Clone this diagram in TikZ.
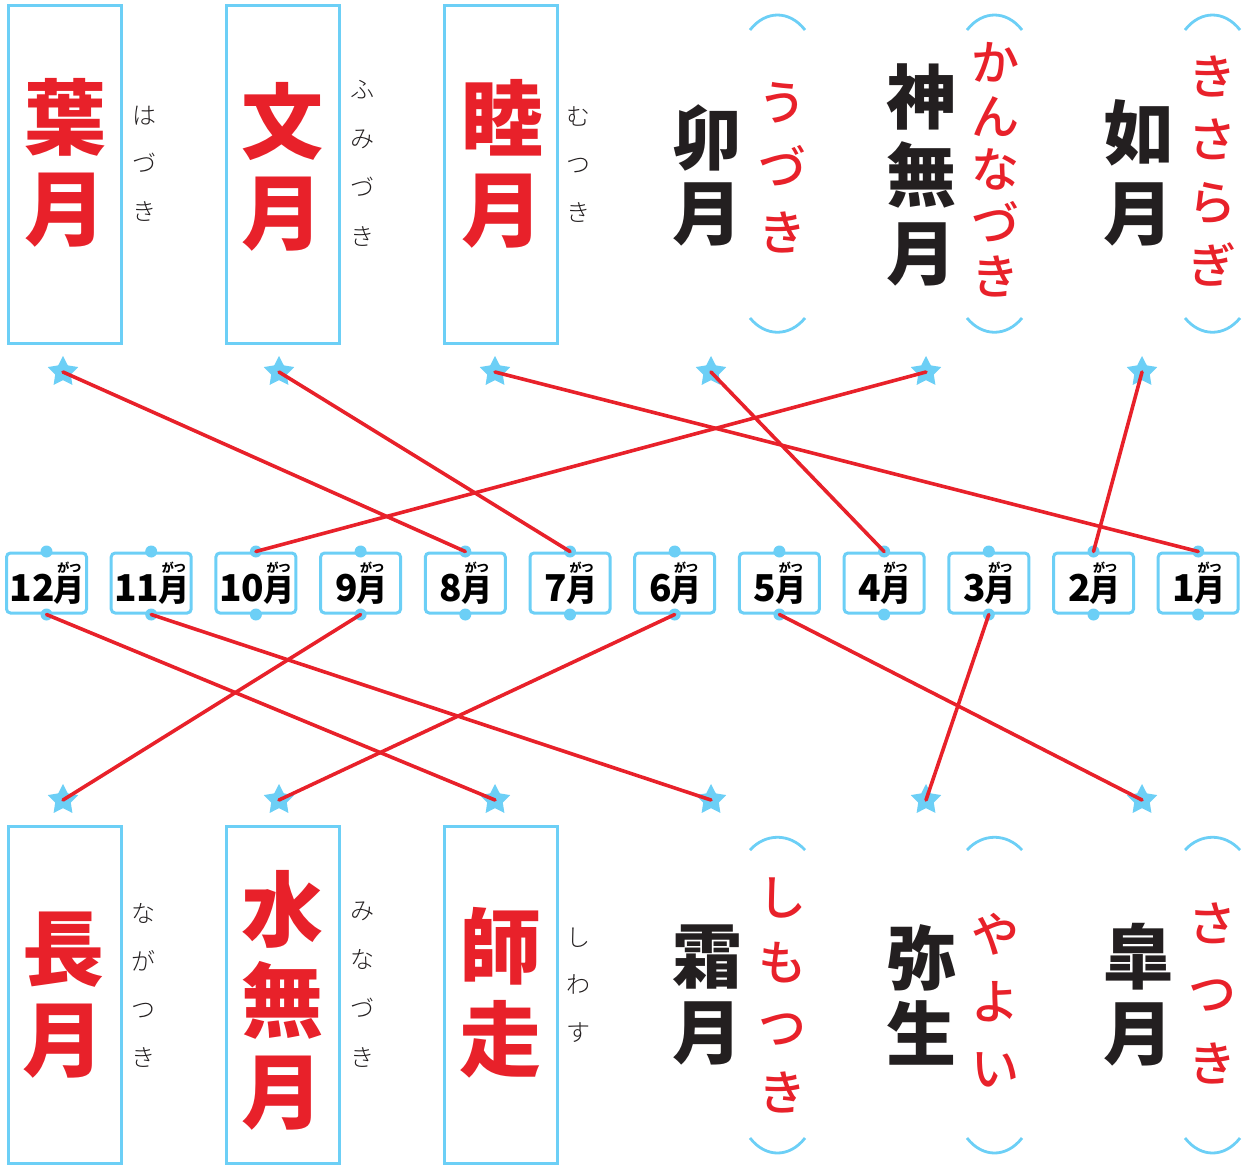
\documentclass[tikz,border=0pt]{standalone}
\usepackage{fontspec}
\usetikzlibrary{shapes.geometric}
\newfontfamily\jp{Noto Sans CJK JP}
\IfFontExistsTF{Noto Sans CJK JP Medium}{\newfontfamily\jpm{Noto Sans CJK JP Medium}}{\newfontfamily\jpm{Noto Sans CJK JP}}
\IfFontExistsTF{Noto Sans CJK JP Light}{\newfontfamily\jpl{Noto Sans CJK JP Light}}{\newfontfamily\jpl{Noto Sans CJK JP}}
\definecolor{lb}{HTML}{6CCFF6}
\definecolor{rd}{HTML}{E8212A}
\definecolor{ink}{HTML}{231F20}
\newcommand\mlab[1]{\jp\bfseries{\fontsize{37}{37}\selectfont #1}\kern0.5pt\vbox{\offinterlineskip\hbox to 28pt{\hss\fontsize{12}{12}\selectfont がつ\hss}\kern2.5pt\hbox to 28pt{\hss\fontsize{31}{31}\selectfont 月\hss}}}
\tikzset{
  kbox/.style={draw=lb, line width=3pt, minimum width=113pt, minimum height=338pt, inner sep=0pt},
  rkanji/.style={text=rd, font=\jp\bfseries\fontsize{82}{91}\selectfont, align=center, inner sep=0pt},
  bkanji/.style={text=ink, font=\jp\bfseries\fontsize{70}{#1}\selectfont, align=center, inner sep=0pt},
  bkanji/.default=76,
  furi/.style={text=ink, font=\jpl\fontsize{24}{#1}\selectfont, align=center, inner sep=0pt},
  furi/.default=48,
  rfuri/.style={text=rd, font=\jpm\fontsize{48}{#1}\selectfont, align=center, inner sep=0pt},
  mbox/.style={draw=lb, line width=3pt, rounded corners=4pt, minimum width=80pt, minimum height=60pt, inner sep=0pt},
  starmark/.style={star, star points=5, star point ratio=1.95, minimum size=32pt, inner sep=0pt, fill=lb, draw=none},
  link/.style={draw=rd, line width=3.6pt, line cap=round},
  paren/.style={draw=lb, line width=2.8pt},
}
\begin{document}
\begin{tikzpicture}[x=1pt,y=-1pt]
\useasboundingbox (0,0) rectangle (1249,1168);
% ---------- top row ----------
\node[kbox] (b1) at (64.5,174) {};
\node[kbox] (b2) at (282.5,174) {};
\node[kbox] (b3) at (500.5,174) {};
\node[rkanji] (k1) at (65,163) {葉\\月};
\node[furi] (f1) at (144,164) {は\\づ\\き};
\node[rkanji] (k2) at (282,167) {文\\月};
\node[furi=49] (f2) at (362,163) {ふ\\み\\づ\\き};
\node[rkanji] (k3) at (502,164) {睦\\月};
\node[furi] (f3) at (578,165) {む\\つ\\き};
\node[bkanji=75] (k4) at (707,175) {卯\\月};
\node[rfuri=65] (r4) at (782,168) {う\\づ\\き};
\node[bkanji=78] (k5) at (921,175) {神\\無\\月};
\node[rfuri=53.5] (r5) at (995,170) {か\\ん\\な\\づ\\き};
\node[bkanji=80] (k6) at (1138,173) {如\\月};
\node[rfuri=63] (r6) at (1212,171) {き\\さ\\ら\\ぎ};
% parentheses top
\foreach \c in {777.5,994.5,1212.5}{
  \draw[paren] (\c-27.5,30) .. controls (\c-12,10) and (\c+12,10) .. (\c+27.5,30);
  \draw[paren] (\c-27.5,318) .. controls (\c-12,337) and (\c+12,337) .. (\c+27.5,318);
}
% ---------- bottom row ----------
\node[kbox, minimum height=337pt] (b7) at (64.5,994.5) {};
\node[kbox, minimum height=337pt] (b8) at (282.5,994.5) {};
\node[kbox, minimum height=337pt] (b9) at (500.5,994.5) {};
\node[rkanji] (k7) at (64,995) {長\\月};
\node[furi] (f7) at (143,985) {な\\が\\つ\\き};
\node[rkanji] (k8) at (282,1000) {水\\無\\月};
\node[furi=49] (f8) at (362,985) {み\\な\\づ\\き};
\node[rkanji, font=\jp\bfseries\fontsize{82}{93}\selectfont] (k9) at (500,993) {師\\走};
\node[furi=47.5] (f9) at (578,985) {し\\わ\\す};
\node[bkanji] (k10) at (707,995) {霜\\月};
\node[rfuri=65] (r10) at (782,995) {し\\も\\つ\\き};
\node[bkanji] (k11) at (921,995) {弥\\生};
\node[rfuri=67] (r11) at (995,1000) {や\\よ\\い};
\node[bkanji] (k12) at (1138,995) {皐\\月};
\node[rfuri=70] (r12) at (1212,993) {さ\\つ\\き};
\foreach \c in {777.5,994.5,1212.5}{
  \draw[paren] (\c-27.5,850) .. controls (\c-12,833) and (\c+12,833) .. (\c+27.5,850);
  \draw[paren] (\c-27.5,1138) .. controls (\c-12,1158) and (\c+12,1158) .. (\c+27.5,1138);
}
% ---------- stars ----------
\node[starmark] (st1) at (63,372) {};
\node[starmark] (st2) at (279,372) {};
\node[starmark] (st3) at (495,372) {};
\node[starmark] (st4) at (711,372) {};
\node[starmark] (st5) at (926,372) {};
\node[starmark] (st6) at (1142,372) {};
\node[starmark] (sb1) at (63,800) {};
\node[starmark] (sb2) at (279,800) {};
\node[starmark] (sb3) at (495,800) {};
\node[starmark] (sb4) at (711,800) {};
\node[starmark] (sb5) at (926,800) {};
\node[starmark] (sb6) at (1142,800) {};
% ---------- month boxes ----------
\foreach \i/\n in {0/12,1/11,2/10,3/9,4/8,5/7,6/6,7/5,8/4,9/3,10/2,11/1}{
  \node[mbox] (m\n) at ({46.5+104.7*\i},583) {\mlab{\n}};
  \fill[lb] (m\n.north) circle (6pt);
  \fill[lb] (m\n.south) circle (6pt);
}
% ---------- connectors ----------
\draw[link] (st1.center) -- (m8.north);
\draw[link] (st2.center) -- (m7.north);
\draw[link] (st3.center) -- (m1.north);
\draw[link] (st4.center) -- (m4.north);
\draw[link] (st5.center) -- (m10.north);
\draw[link] (st6.center) -- (m2.north);
\draw[link] (m12.south) -- (sb3.center);
\draw[link] (m11.south) -- (sb4.center);
\draw[link] (m9.south) -- (sb1.center);
\draw[link] (m6.south) -- (sb2.center);
\draw[link] (m3.south) -- (sb5.center);
\draw[link] (m5.south) -- (sb6.center);
\end{tikzpicture}
\end{document}
